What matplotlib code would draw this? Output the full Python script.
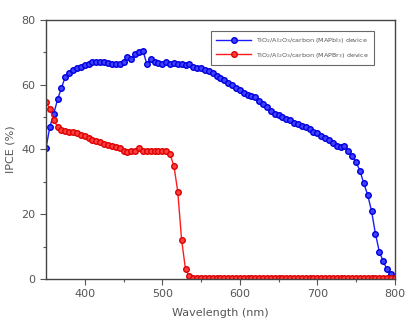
import matplotlib.pyplot as plt
import numpy as np

wavelength = np.arange(350, 801, 5)

ipce_mapbi3 = [40.4, 47, 51, 55.5, 59, 62.5, 63.5, 64.5, 65, 65.5,
               66, 66.5, 67, 67, 67, 67, 66.8, 66.5, 66.3, 66.5,
               67, 68.5, 68, 69.5, 70, 70.5, 66.5, 68, 67, 66.7,
               66.5, 67, 66.5, 66.8, 66.3, 66.5, 66, 66.5, 65.5, 65,
               65.2, 64.5, 64.3, 63.5, 62.8, 62, 61.4, 60.5, 59.8, 59,
               58.3, 57.3, 56.8, 56.5, 56.2, 55, 54, 53, 52, 51,
               50.5, 50, 49.5, 49, 48.2, 47.8, 47.3, 46.8, 46.3, 45.5,
               45, 44.2, 43.5, 43, 42, 41, 40.8, 41, 39.5, 38,
               36, 33.5, 29.5, 26, 21, 14, 8.5, 5.5, 3, 1.5,
               0.7]

ipce_mapbbr3 = [54.7, 52.5, 49, 47, 46, 45.7, 45.5, 45.3, 45, 44.5,
                44.2, 43.6, 43, 42.7, 42.2, 41.7, 41.3, 41, 40.6, 40.3,
                39.5, 39.2, 39.4, 39.5, 40.5, 39.6, 39.5, 39.5, 39.6, 39.5,
                39.4, 39.5, 38.5, 35, 27, 12, 3, 0.8, 0.4, 0.3,
                0.3, 0.3, 0.3, 0.3, 0.3, 0.3, 0.3, 0.3, 0.3, 0.3,
                0.3, 0.3, 0.3, 0.3, 0.3, 0.3, 0.3, 0.3, 0.3, 0.3,
                0.3, 0.3, 0.3, 0.3, 0.3, 0.3, 0.3, 0.3, 0.3, 0.3,
                0.3, 0.3, 0.3, 0.3, 0.3, 0.3, 0.3, 0.3, 0.3, 0.3,
                0.3, 0.3, 0.3, 0.3, 0.3, 0.3, 0.3, 0.3, 0.3, 0.3,
                0.3]

labels = [r'TiO$_2$/Al$_2$O$_3$/carbon (MAPbI$_3$) device',
          r'TiO$_2$/Al$_2$O$_3$/carbon (MAPBr$_3$) device']

grey = '#555555'
fig = plt.figure(figsize=(4.07, 3.2), dpi=100)
ax = fig.add_axes([0.113, 0.128, 0.857, 0.81])

ax.plot(wavelength, ipce_mapbi3, 'o-', color='#1a1aff', mfc='#4040ff',
        mec='#0000dd', ms=4, lw=1.0, label=labels[0])
ax.plot(wavelength, ipce_mapbbr3, 'o-', color='#ff1a1a', mfc='#ff4040',
        mec='#dd0000', ms=4, lw=1.0, label=labels[1])

ax.set_xlim(350, 800)
ax.set_ylim(0, 80)
ax.set_xticks([400, 500, 600, 700, 800])
ax.set_xticks([450, 550, 650, 750], minor=True)
ax.set_yticks([0, 20, 40, 60, 80])
ax.set_yticks([10, 30, 50, 70], minor=True)
ax.tick_params(which='major', direction='out', length=4, width=0.8,
               colors=grey, labelsize=8)
ax.tick_params(which='minor', direction='out', length=2, width=0.8,
               colors=grey)
for s in ax.spines.values():
    s.set_color('#444444')
    s.set_linewidth(1.0)

ax.set_xlabel('Wavelength (nm)', fontsize=8, color=grey, labelpad=6)
ax.set_ylabel('IPCE (%)', fontsize=8, color=grey, labelpad=4)

leg = ax.legend(loc='upper right', fontsize=4.6, frameon=True, fancybox=False,
                edgecolor='#444444', handlelength=5.5, borderpad=0.8,
                labelspacing=0.9, bbox_to_anchor=(0.95, 0.97))
leg.get_frame().set_linewidth(0.8)
for t in leg.get_texts():
    t.set_color(grey)

plt.savefig('out.png', dpi=100)
